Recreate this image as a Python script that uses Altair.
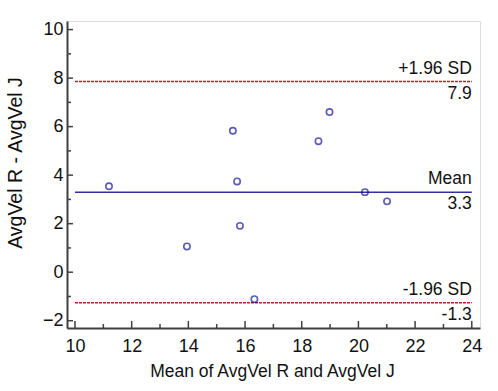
import altair as alt
import pandas as pd

# data
mean_vals = [11.2, 13.95, 15.57, 15.72, 15.82, 16.33, 18.59, 18.98, 20.23, 21.01]
diff_vals = [3.54, 1.06, 5.83, 3.74, 1.91, -1.11, 5.40, 6.60, 3.30, 2.92]

ref_names = ["+1.96 SD", "Mean", "-1.96 SD"]
ref_values = [7.86, 3.30, -1.26]
ref_labels = ["7.9", "3.3", "-1.3"]
ref_kinds = ["sd", "mean", "sd"]

x_ticks = [10, 12, 14, 16, 18, 20, 22, 24]
x_minor = [11, 13, 15, 17, 19, 21, 23]
y_ticks = [-2, 0, 2, 4, 6, 8, 10]
y_minor = [-1, 1, 3, 5, 7, 9]

x_title = "Mean of AvgVel R and AvgVel J"
y_title = "AvgVel R - AvgVel J"

W, H = 413, 307
FONT = "Liberation Sans"

pts = pd.DataFrame({"m": mean_vals, "d": diff_vals})
refs = pd.DataFrame({"name": ref_names, "v": ref_values, "lab": ref_labels,
                     "kind": ref_kinds, "x0": [10] * 3, "x1": [24] * 3})

xs = alt.Scale(domain=[9.718, 24.29], nice=False, zero=False)
ys = alt.Scale(domain=[-2.30, 10.354], nice=False, zero=False)

x_axis = alt.Axis(values=x_ticks, title=x_title,
                  grid=False, ticks=False, tickSize=0, labelPadding=9,
                  domainColor="#404040", domainWidth=2,
                  labelFontSize=18, labelColor="#111", labelFont=FONT,
                  titleFont=FONT, titleFontSize=17.5, titleFontWeight="normal",
                  titleColor="#111", titleX=205, titleY=48.7,
                  titleBaseline="alphabetic", titleAlign="center")
y_axis = alt.Axis(values=y_ticks, title=None,
                  grid=False, ticks=False, tickSize=0, labelPadding=4,
                  domainColor="#404040", domainWidth=2,
                  labelFontSize=18, labelColor="#111", labelFont=FONT)

points = alt.Chart(pts).mark_point(shape="circle", filled=False, size=40,
                                   strokeWidth=1.6, color="#16169a").encode(
    x=alt.X("m:Q", scale=xs, axis=x_axis),
    y=alt.Y("d:Q", scale=ys, axis=y_axis),
)

sd_lines = alt.Chart(refs[refs.kind == "sd"]).mark_rule(
    color="#c02020", strokeWidth=1.3, strokeDash=[3, 1]).encode(
    x=alt.X("x0:Q", scale=xs), x2="x1", y=alt.Y("v:Q", scale=ys))
mean_line = alt.Chart(refs[refs.kind == "mean"]).mark_rule(
    color="#3030a0", strokeWidth=1.5).encode(
    x=alt.X("x0:Q", scale=xs), x2="x1", y=alt.Y("v:Q", scale=ys))

names = alt.Chart(refs).mark_text(align="right", baseline="alphabetic", dy=-8,
                                  fontSize=17.5, font=FONT, color="#111").encode(
    x=alt.X("x1:Q", scale=xs), y=alt.Y("v:Q", scale=ys), text="name")
vals = alt.Chart(refs).mark_text(align="right", baseline="alphabetic", dy=17,
                                 fontSize=17.5, font=FONT, color="#111").encode(
    x=alt.X("x1:Q", scale=xs), y=alt.Y("v:Q", scale=ys), text="lab")

ytitle = alt.Chart(pd.DataFrame({"t": [y_title]})).mark_text(
    angle=270, align="center", baseline="alphabetic", fontSize=19.5,
    font=FONT, color="#111").encode(
    x=alt.value(-45), y=alt.value(142), text="t:N")

# inward tick marks
xt_major = alt.Chart(pd.DataFrame({"t": x_ticks})).mark_rule(
    color="#404040", strokeWidth=1.5).encode(
    x=alt.X("t:Q", scale=xs), y=alt.value(H), y2=alt.value(H - 7))
xt_minor = alt.Chart(pd.DataFrame({"t": x_minor})).mark_rule(
    color="#404040", strokeWidth=1.5).encode(
    x=alt.X("t:Q", scale=xs), y=alt.value(H), y2=alt.value(H - 4))
yt_major = alt.Chart(pd.DataFrame({"t": y_ticks})).mark_rule(
    color="#404040", strokeWidth=1.5).encode(
    y=alt.Y("t:Q", scale=ys), x=alt.value(0), x2=alt.value(6))
yt_minor = alt.Chart(pd.DataFrame({"t": y_minor})).mark_rule(
    color="#404040", strokeWidth=1.5).encode(
    y=alt.Y("t:Q", scale=ys), x=alt.value(0), x2=alt.value(4))

chart = alt.layer(
    sd_lines, mean_line, xt_major, xt_minor, yt_major, yt_minor,
    points, names, vals, ytitle,
).properties(
    width=W, height=H,
    autosize=alt.AutoSizeParams(type="none"),
    padding={"left": 67, "top": 21, "right": 18, "bottom": 63},
).configure_view(stroke=None).configure(background="white")

chart.save("out.html", embed_options={"renderer": "svg", "actions": False})
